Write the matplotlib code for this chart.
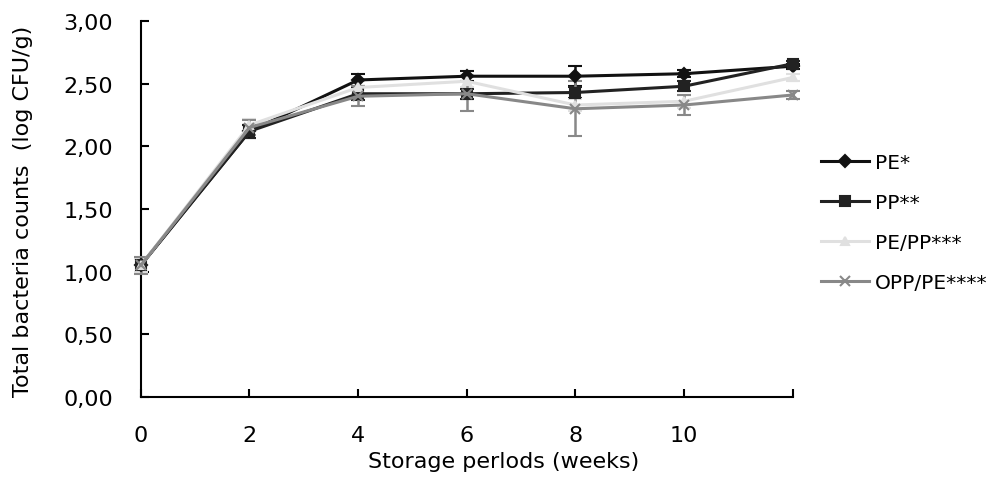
import numpy as np
import matplotlib
matplotlib.use("Agg")
import matplotlib.pyplot as plt
from matplotlib.ticker import FuncFormatter
from matplotlib.lines import Line2D

weeks = [0, 2, 4, 6, 8, 10, 12]

pe = [1.05, 2.12, 2.53, 2.56, 2.56, 2.58, 2.64]
pe_err = [0.06, 0.05, 0.05, 0.04, 0.08, 0.03, 0.02]

pp = [1.05, 2.12, 2.42, 2.42, 2.43, 2.48, 2.66]
pp_err = [0.06, 0.05, 0.05, 0.04, 0.04, 0.04, 0.02]

pepp = [1.05, 2.17, 2.47, 2.52, 2.33, 2.36, 2.55]
pepp_err = [0.05, 0.05, 0.05, 0.05, 0.05, 0.05, 0.03]

opppe = [1.05, 2.15, 2.40, 2.42, 2.30, 2.33, 2.41]
opppe_err = [0.07, 0.06, 0.08, 0.14, 0.22, 0.08, 0.03]

labels = ["PE*", "PP**", "PE/PP***", "OPP/PE****"]

plt.rcParams['font.family'] = ['DejaVu Sans']

fig = plt.figure(figsize=(10.06, 4.81), dpi=100)
ax = fig.add_axes([0.140, 0.173, 0.648, 0.781])

series = [
    (pe, pe_err, "D", "#111111", 6),
    (pp, pp_err, "s", "#222222", 7),
    (pepp, pepp_err, "^", "#e0e0e0", 6),
    (opppe, opppe_err, "x", "#888888", 7),
]
handles = []
for (vals, err, mk, col, ms), lab in zip(series, labels):
    eb = ax.errorbar(weeks, vals, yerr=err, marker=mk, color=col, ms=ms,
                     lw=2.2, capsize=5, elinewidth=1.8, capthick=2,
                     mew=1.5, clip_on=False, zorder=3)
    eb.lines[0].set_clip_on(False)
    for c in list(eb.lines[1]) + list(eb.lines[2]):
        c.set_clip_on(False)
    handles.append(Line2D([], [], marker=mk, color=col, ms=ms, lw=2.2, mew=1.5))

ax.set_xlim(0, 12)
ax.set_ylim(0, 3)
ax.set_xticks([0, 2, 4, 6, 8, 10, 12])
ax.set_xticklabels(["0", "2", "4", "6", "8", "10", ""])
ax.set_yticks(np.arange(0, 3.01, 0.5))
ax.yaxis.set_major_formatter(FuncFormatter(lambda v, p: ("%.2f" % v).replace(".", ",")))

ax.spines['top'].set_visible(False)
ax.spines['right'].set_visible(False)
ax.spines['left'].set_linewidth(1.5)
ax.spines['bottom'].set_linewidth(1.5)
ax.tick_params(direction='in', length=6, width=1.5, labelsize=16, pad=20)

ax.set_xlabel("Storage perlods (weeks)", fontsize=16)
ax.set_ylabel("Total bacteria counts  (log CFU/g)", fontsize=16)
ax.xaxis.set_label_coords(0.557, -0.143)
ax.yaxis.set_label_coords(-0.165, 0.495)

fig.legend(handles=handles, labels=labels, loc='upper left',
           bbox_to_anchor=(0.808, 0.697), frameon=False, fontsize=14.5,
           handlelength=2.4, labelspacing=1.05, handletextpad=0.3,
           borderaxespad=0)

fig.savefig("out.png", dpi=100, facecolor="white")
